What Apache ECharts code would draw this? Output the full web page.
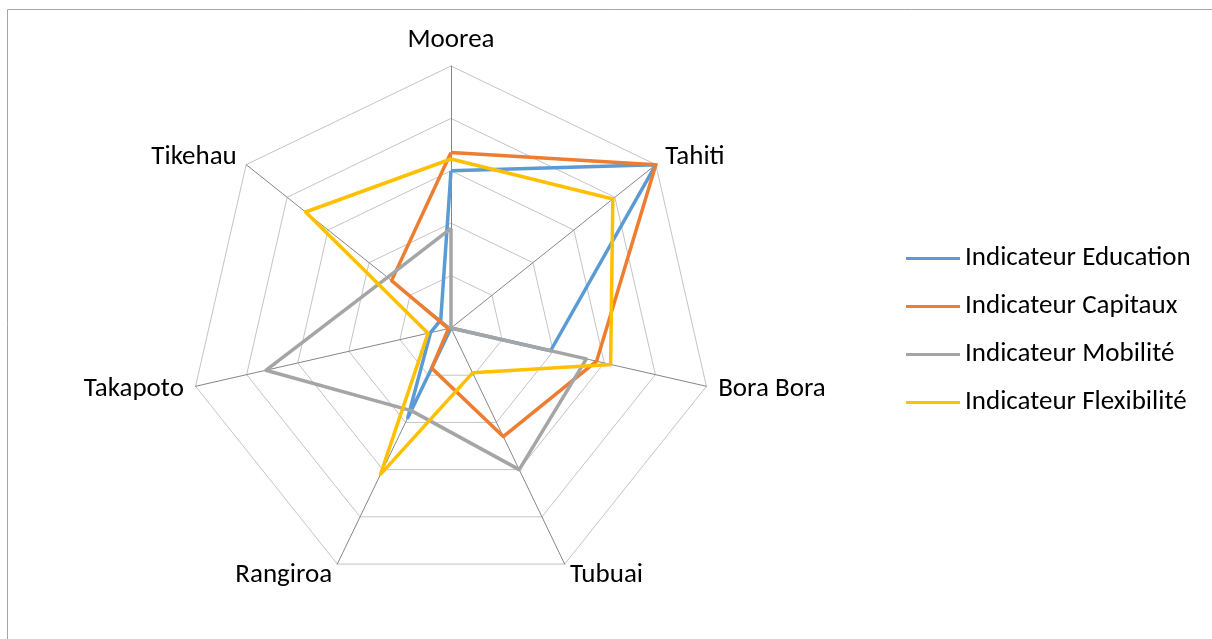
<!DOCTYPE html>
<html>
<head>
<meta charset="utf-8">
<title>Indicateurs</title>
<script src="https://cdn.jsdelivr.net/npm/echarts@6/dist/echarts.min.js"></script>
<style>
  html, body { margin: 0; padding: 0; background: #fff; }
  #main { width: 1212px; height: 639px; }
</style>
</head>
<body>
<div id="main"></div>
<script>
// islands, clockwise from the top like in the original chart
var islands = ['Moorea', 'Tahiti', 'Bora Bora', 'Tubuai', 'Rangiroa', 'Takapoto', 'Tikehau'];

var education = [0.60, 1.00, 0.39, 0.00, 0.38, 0.08, 0.05];
var capitaux = [0.67, 1.00, 0.57, 0.46, 0.17, 0.01, 0.29];
var mobilite = [0.38, 0.00, 0.53, 0.60, 0.35, 0.725, 0.31];
var flexibilite = [0.645, 0.79, 0.625, 0.19, 0.62, 0.09, 0.71];

var seriesNames = ['Indicateur Education', 'Indicateur Capitaux', 'Indicateur Mobilité', 'Indicateur Flexibilité'];
var colors = ['#5B9BD5', '#ED7D31', '#A5A5A5', '#FFC000'];

var font = 'Carlito, Lato, sans-serif';

// echarts goes counter-clockwise, so keep the first one and reverse the rest
function clockwise(arr) {
    return [arr[0]].concat(arr.slice(1).reverse());
}

var myChart = echarts.init(document.getElementById('main'));

var allValues = [education, capitaux, mobilite, flexibilite];
var series = allValues.map(function (vals, i) {
    return {
        name: seriesNames[i],
        type: 'radar',
        symbol: 'none',
        z: 2 + i,
        lineStyle: { color: colors[i], width: 3.5 },
        itemStyle: { color: colors[i] },
        data: [{ name: seriesNames[i], value: clockwise(vals) }]
    };
});

var option = {
    backgroundColor: '#fff',
    color: colors,
    animation: false,
    graphic: [{
        type: 'rect',
        shape: { x: 7.5, y: 9.5, width: 1230, height: 660 },
        style: { fill: null, stroke: '#a6a6a6', lineWidth: 1 },
        silent: true
    }],
    legend: {
        orient: 'vertical',
        left: 906,
        top: 245,
        padding: 0,
        itemWidth: 54,
        itemHeight: 3,
        itemGap: 21,
        icon: 'rect',
        data: seriesNames,
        textStyle: { fontFamily: font, fontSize: 27, color: '#000' }
    },
    radar: {
        center: [451, 328],
        radius: 262,
        startAngle: 90,
        splitNumber: 5,
        shape: 'polygon',
        axisNameGap: 12,
        indicator: clockwise(islands).map(function (n) {
            return { name: n, min: 0, max: 1 };
        }),
        axisName: { color: '#000', fontFamily: font, fontSize: 27 },
        axisLine: { lineStyle: { color: '#868686', width: 1 } },
        splitLine: { lineStyle: { color: '#C4C4C4', width: 1 } },
        splitArea: { show: false },
        axisTick: { show: false },
        axisLabel: { show: false }
    },
    series: series
};

myChart.setOption(option);
</script>
</body>
</html>
